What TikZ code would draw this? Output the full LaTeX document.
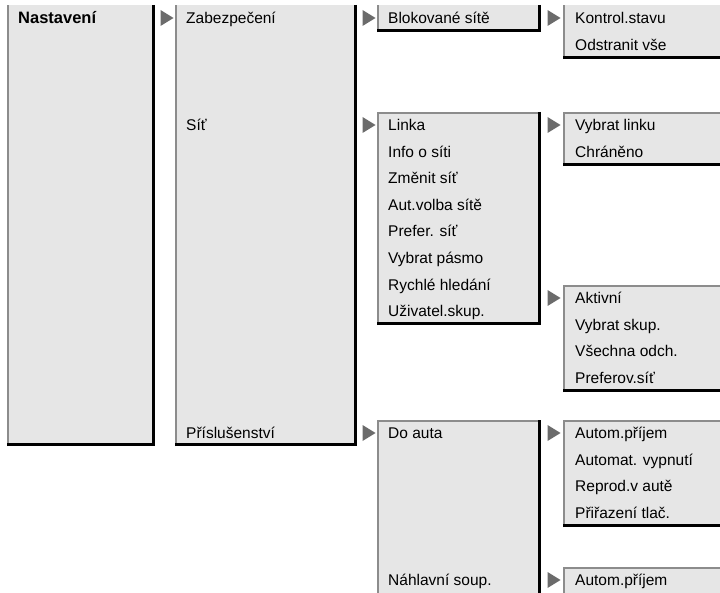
\documentclass[tikz,border=0pt]{standalone}
\usepackage{fontspec}
\setmainfont{Liberation Sans}
\usepackage{tikz}
\usetikzlibrary{shapes.geometric}
\definecolor{plocha}{HTML}{E6E6E6}
\definecolor{hrana}{HTML}{8C8C8C}
\definecolor{sipka}{HTML}{6B6B6B}

\tikzset{
  menubox/.style={fill=plocha, draw=none, inner sep=0pt, anchor=north west},
  item/.style={anchor=base west, inner sep=0pt, font=\fontsize{15.5}{17}\selectfont},
  sipkaup/.style={isosceles triangle, isosceles triangle stretches, fill=sipka,
    draw=none, inner sep=0pt, minimum width=16pt, minimum height=13pt},
  svetla/.style={draw=hrana, line width=2pt},
  stin/.style={draw=black, line width=3pt}
}

\begin{document}
\begin{tikzpicture}[x=1pt, y=-1pt]
  \useasboundingbox (0,0) rectangle (720,593);
  % sloupce a roztec radku
  \def\xa{7} \def\xb{175} \def\xc{377} \def\xd{563}
  \def\p{26.6}

  % okna menu: jmeno/x/y/sirka/vyska
  \foreach \n/\x/\y/\w/\h in {
      n1/\xa/5/148/441, n2/\xb/5/182/441,
      n3/\xc/5/164/27, n4/\xc/112/164/213, n5/\xc/420/164/190,
      n6/\xd/5/160/54, n7/\xd/112/160/54, n8/\xd/285/160/107,
      n9/\xd/420/160/107, n10/\xd/567/160/50}{
    \node[menubox, minimum width=\w, minimum height=\h] (\n) at (\x,\y) {};
  }
  % horni okna bez horni hrany
  \foreach \n in {n1,n2,n3,n6}{
    \draw[svetla] ([xshift=1pt]\n.south west) -- ([xshift=1pt]\n.north west);
    \draw[stin] ([xshift=-1.5pt]\n.north east) -- ([xshift=-1.5pt,yshift=1.5pt]\n.south east)
      -- ([yshift=1.5pt]\n.south west);
  }
  \foreach \n in {n4,n5,n7,n8,n9,n10}{
    \draw[svetla] ([xshift=1pt]\n.south west) -- ([xshift=1pt,yshift=-1pt]\n.north west)
      -- ([yshift=-1pt]\n.north east);
    \draw[stin] ([xshift=-1.5pt]\n.north east) -- ([xshift=-1.5pt,yshift=1.5pt]\n.south east)
      -- ([yshift=1.5pt]\n.south west);
  }

  % polozky
  \node[item, font=\fontsize{16.5}{18}\selectfont\bfseries] (nast) at (\xa+11,23.5) {Nastavení};
  \node[item] (zab) at (\xb+11,23.5) {Zabezpečení};
  \node[item] (sit) at (\xb+11,130.5) {Síť};
  \node[item] (pris) at (\xb+11,438.5) {Příslušenství};
  \node[item] (blok) at (\xc+11,23.5) {Blokované sítě};
  \node[item] (kon) at (\xd+12,23.5) {Kontrol.stavu};
  \node[item] (ods) at (\xd+12,23.5+\p) {Odstranit vše};
  \node[item] (vyb) at (\xd+12,130.5) {Vybrat linku};
  \node[item] (chr) at (\xd+12,130.5+\p) {Chráněno};
  \foreach \t [count=\i from 0] in {Linka, Info o síti, Změnit síť,
      Aut.volba sítě, Prefer. síť, Vybrat pásmo, Rychlé hledání, Uživatel.skup.}{
    \node[item] (l\i) at (\xc+11,130.5+\i*\p) {\t};
  }
  \foreach \t [count=\i from 0] in {Aktivní, Vybrat skup., Všechna odch., Preferov.síť}{
    \node[item] (u\i) at (\xd+12,303.5+\i*\p) {\t};
  }
  \node[item] (auto) at (\xc+11,438.5) {Do auta};
  \node[item] (nahl) at (\xc+11,585.5) {Náhlavní soup.};
  \foreach \t [count=\i from 0] in {Autom.příjem, Automat. vypnutí,
      Reprod.v autě, Přiřazení tlač.}{
    \node[item] (a\i) at (\xd+12,438.5+\i*\p) {\t};
  }
  \node[item] (hp) at (\xd+12,585.5) {Autom.příjem};

  % sipky
  \foreach \n/\x/\y in {s1/165/18, s2/367/18, s3/552/18, s4/367/125,
      s5/552/125, s6/552/298, s7/367/433, s8/552/433, s9/552/580}{
    \node[sipkaup] (\n) at (\x,\y) {};
  }
\end{tikzpicture}
\end{document}
